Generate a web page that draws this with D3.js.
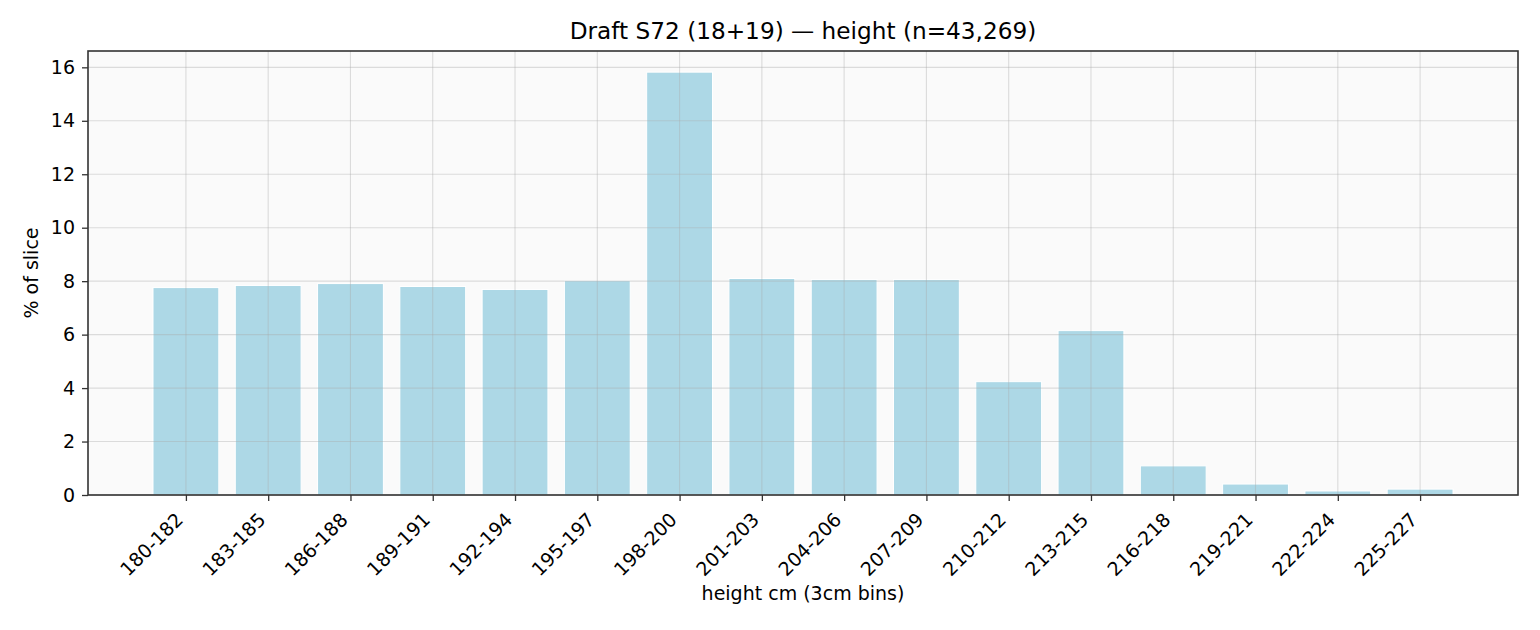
<!DOCTYPE html>
<html>
<head>
<meta charset="utf-8">
<script src="https://cdn.jsdelivr.net/npm/d3@7"></script>
<style>
  html, body { margin: 0; padding: 0; background: #ffffff; }
  svg { display: block; }
  text { font-family: "DejaVu Sans", sans-serif; fill: #000; }
</style>
</head>
<body>
<svg id="chart" width="1540" height="630"></svg>
<script>
const categories = ["180-182","183-185","186-188","189-191","192-194","195-197","198-200","201-203","204-206","207-209","210-212","213-215","216-218","219-221","222-224","225-227"];
const values = [7.76, 7.84, 7.91, 7.80, 7.69, 8.02, 15.82, 8.10, 8.06, 8.06, 4.24, 6.15, 1.09, 0.41, 0.15, 0.22];
const yTicks = [0, 2, 4, 6, 8, 10, 12, 14, 16];
const titleText = "Draft S72 (18+19) \u2014 height (n=43,269)";
const xLabelText = "height cm (3cm bins)";
const yLabelText = "% of slice";

const W = 1540, H = 630;
const L = 88, R = 1518, T = 51, B = 495;
const barW = 0.8;
const n = categories.length;
const pad = 0.05 * (n - 1 + barW);
const tickFont = "19px";
const labelFont = "19px";
const titleFont = "23.2px";

const svg = d3.select("#chart");

const x = d3.scaleLinear()
  .domain([-barW / 2 - pad, n - 1 + barW / 2 + pad])
  .range([L, R]);
const y = d3.scaleLinear()
  .domain([0, d3.max(values) * 1.05])
  .range([B, T]);

// axes background
svg.append("rect")
  .attr("x", L).attr("y", T)
  .attr("width", R - L).attr("height", B - T)
  .attr("fill", "#fafafa");

// bars
svg.append("g").selectAll("rect")
  .data(values)
  .join("rect")
  .attr("x", (d, i) => x(i - barW / 2))
  .attr("width", (d, i) => x(i + barW / 2) - x(i - barW / 2))
  .attr("y", d => y(d))
  .attr("height", d => y(0) - y(d))
  .attr("fill", "#add8e6")
  .attr("stroke", "#ffffff")
  .attr("stroke-width", 1);

// grid (drawn above bars)
const grid = svg.append("g")
  .attr("stroke", "#a8a8a8")
  .attr("stroke-opacity", 0.38)
  .attr("stroke-width", 1.1);
grid.selectAll("line.gy")
  .data(yTicks)
  .join("line")
  .attr("class", "gy")
  .attr("x1", L).attr("x2", R)
  .attr("y1", d => y(d)).attr("y2", d => y(d));
grid.selectAll("line.gx")
  .data(categories)
  .join("line")
  .attr("class", "gx")
  .attr("x1", (d, i) => x(i)).attr("x2", (d, i) => x(i))
  .attr("y1", T).attr("y2", B);

// y axis
const yAxis = d3.axisLeft(y)
  .tickValues(yTicks)
  .tickFormat(d3.format("d"))
  .tickSize(6)
  .tickPadding(7);
const gy = svg.append("g")
  .attr("transform", `translate(${L},0)`)
  .call(yAxis);
gy.select(".domain").remove();
gy.selectAll(".tick line").attr("stroke", "#333").attr("stroke-width", 1.3);
gy.selectAll(".tick text")
  .style("font-size", tickFont)
  .style("font-family", "'DejaVu Sans', sans-serif")
  .attr("fill", "#000");

// x axis
const xAxis = d3.axisBottom(x)
  .tickValues(d3.range(n))
  .tickFormat(i => categories[i])
  .tickSize(6)
  .tickPadding(0);
const gx = svg.append("g")
  .attr("transform", `translate(0,${B})`)
  .call(xAxis);
gx.select(".domain").remove();
gx.selectAll(".tick line").attr("stroke", "#333").attr("stroke-width", 1.3);
gx.selectAll(".tick text")
  .style("font-size", tickFont)
  .style("font-family", "'DejaVu Sans', sans-serif")
  .attr("fill", "#000")
  .attr("text-anchor", "end")
  .attr("dy", null)
  .attr("y", 0)
  .attr("transform", "translate(-2,26) rotate(-45)");

// spines
svg.append("rect")
  .attr("x", L).attr("y", T)
  .attr("width", R - L).attr("height", B - T)
  .attr("fill", "none")
  .attr("stroke", "#333")
  .attr("stroke-width", 1.6);

// title
svg.append("text")
  .attr("x", (L + R) / 2).attr("y", 39)
  .attr("text-anchor", "middle")
  .style("font-size", titleFont)
  .text(titleText);

// x label
svg.append("text")
  .attr("x", (L + R) / 2).attr("y", 600)
  .attr("text-anchor", "middle")
  .style("font-size", labelFont)
  .text(xLabelText);

// y label
svg.append("text")
  .attr("transform", `translate(37.5,${(T + B) / 2}) rotate(-90)`)
  .attr("text-anchor", "middle")
  .style("font-size", labelFont)
  .text(yLabelText);
</script>
</body>
</html>
